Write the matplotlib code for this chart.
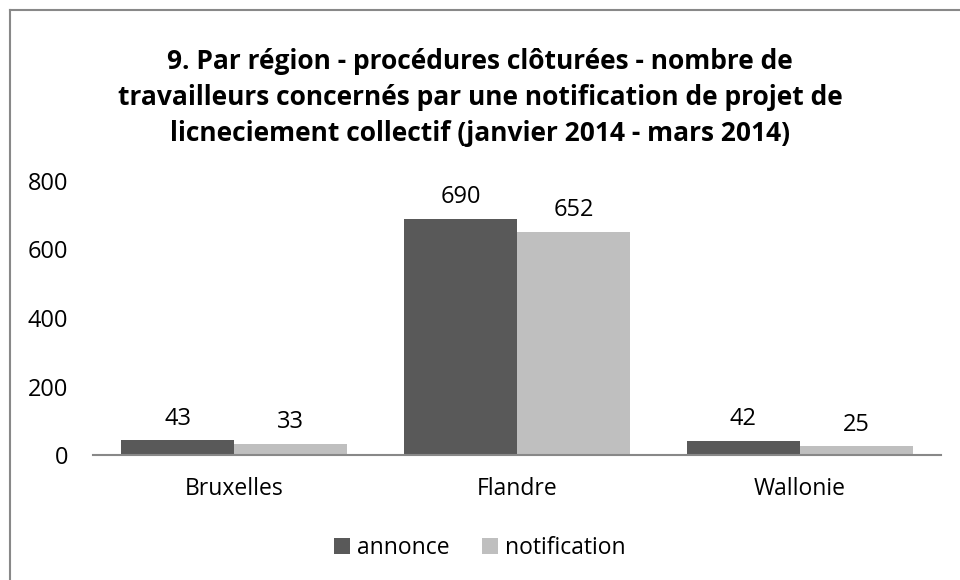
import numpy as np
import matplotlib.pyplot as plt
from matplotlib.lines import Line2D

plt.rcParams['font.family'] = ['Open Sans', 'DejaVu Sans']

regions = ["Bruxelles", "Flandre", "Wallonie"]
annonce = [43, 690, 42]
notification = [33, 652, 25]
series_names = ["annonce", "notification"]
title = ("9. Par région - procédures clôturées - nombre de\n"
         "travailleurs concernés par une notification de projet de\n"
         "licneciement collectif (janvier 2014 - mars 2014)")

c_dark = "#595959"
c_light = "#bfbfbf"

fig = plt.figure(figsize=(9.6, 5.8), dpi=100)
ax = fig.add_axes([93/960, 1 - 455/580, (941 - 93)/960, (455 - 181)/580])

x = np.arange(len(regions))
w = 0.4
b1 = ax.bar(x - w/2, annonce, w, color=c_dark, label=series_names[0])
b2 = ax.bar(x + w/2, notification, w, color=c_light, label=series_names[1])
for bars in (b1, b2):
    ax.bar_label(bars, padding=7, fontsize=17)

ax.set_xlim(-0.5, 2.5)
ax.set_ylim(0, 800)
ax.set_yticks([0, 200, 400, 600, 800])
ax.set_xticks(x)
ax.set_xticklabels(regions)
ax.tick_params(axis='both', length=0)
ax.tick_params(axis='x', pad=16, labelsize=16.5)
ax.tick_params(axis='y', pad=18, labelsize=17)
for s in ["top", "right", "left"]:
    ax.spines[s].set_visible(False)
ax.spines["bottom"].set_color("#888888")
ax.spines["bottom"].set_linewidth(1.5)

fig.text(0.5, 0.832, title, ha='center', va='center', fontsize=19,
         fontweight='bold', linespacing=1.42)

fig.legend(handles=[b1, b2], labels=series_names, loc='center',
           bbox_to_anchor=(0.5, 1 - 548/580), ncol=2, frameon=False,
           fontsize=16.5, handlelength=0.7, handleheight=0.7,
           handletextpad=0.3, columnspacing=1.4)

# outer chart border
fig.add_artist(Line2D([10/960, 10/960], [0, 1 - 10/580], color="#888888", lw=1.5))
fig.add_artist(Line2D([10/960, 1], [1 - 10/580, 1 - 10/580], color="#888888", lw=1.5))

fig.savefig("out.png", dpi=100)
